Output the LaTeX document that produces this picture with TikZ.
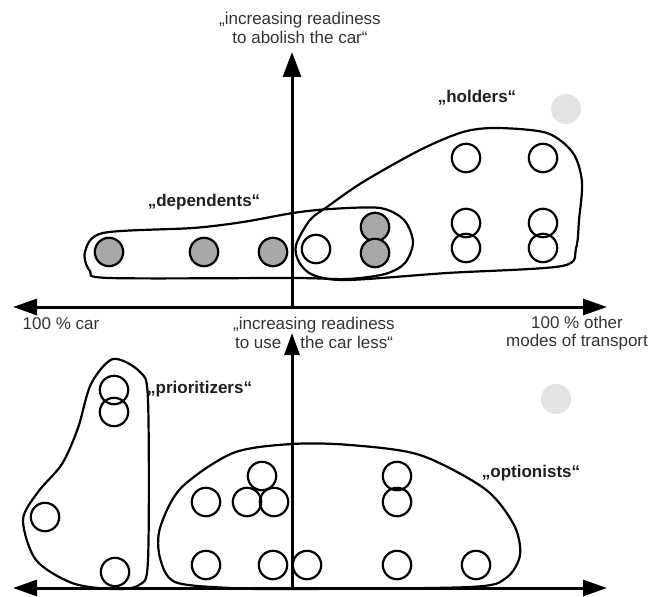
\documentclass[tikz,border=0pt]{standalone}
\usepackage{fontspec}
\setmainfont{Liberation Sans}
\usetikzlibrary{arrows.meta}
\definecolor{txt}{HTML}{333333}
\definecolor{dotgray}{HTML}{A8A8A8}
\definecolor{ghost}{HTML}{E3E3E3}
\begin{document}
\begin{tikzpicture}[x=1pt,y=-1pt,
  lbl/.style={font=\fontsize{17}{19}\selectfont, text=txt, inner sep=0pt, anchor=base},
  grp/.style={font=\fontsize{17}{19}\selectfont\bfseries, text=black!88, inner sep=0pt, anchor=base},
  pt/.style={circle, draw=black, line width=2.2pt, minimum size=28.4pt, inner sep=0pt},
  ptg/.style={pt, fill=dotgray},
  ghostdot/.style={circle, fill=ghost, minimum size=30pt, inner sep=0pt},
  blob/.style={draw=black, line width=2.2pt},
  haxis/.style={line width=3pt, {Triangle[length=24pt,width=16pt]}-{Triangle[length=24pt,width=16pt]}},
  vaxisA/.style={line width=3pt, -{Triangle[length=25pt,width=18pt]}},
  vaxisB/.style={line width=3pt, -{Triangle[length=22pt,width=15pt]}}
]
\useasboundingbox (0,0) rectangle (652,596);

% ---------- upper diagram ----------
\node[ghostdot] (g1) at (566,109) {};

% holders blob
\draw[blob] plot[smooth cycle] coordinates {
  (296,245) (310,220) (327,207) (363,182) (420,150) (463,132) (497,128)
  (547,133) (573,153) (582,182) (579,220) (576,248) (562,266) (447,273)
  (347,280) (313,275) (299,262)};
% dependents blob
\draw[blob] plot[smooth cycle] coordinates {
  (85,252) (103,233) (193,228) (243,222) (293,213) (330,209) (380,208)
  (404,220) (413,242) (405,263) (385,274) (347,279) (293,278) (110,278) (90,271)};

\node[ptg] (d1) at (109,252) {};
\node[ptg] (d2) at (204,252) {};
\node[ptg] (d3) at (273,252) {};
\node[pt]  (d4) at (316,249) {};
\node[ptg] (d5) at (375,227) {};
\node[ptg] (d6) at (375,253) {};

\node[pt] (h1) at (466,158) {};
\node[pt] (h2) at (543,158) {};
\node[pt] (h3) at (466,223) {};
\node[pt] (h4) at (543,223) {};
\node[pt] (h5) at (466,248) {};
\node[pt] (h6) at (543,248) {};

\coordinate (hL1) at (13,307);
\coordinate (hR1) at (607,307);
\coordinate (vB1) at (292,307);
\coordinate (vT1) at (292,52);
\draw[haxis] (hL1) -- (hR1);
\draw[vaxisA] (vB1) -- (vT1);

\node[lbl] (ta1) at (300,25) {„increasing readiness};
\node[lbl] (ta2) at (300,44) {to abolish the car“};
\node[grp] (holders) at (477,103) {„holders“};
\node[grp] (dependents) at (204,206) {„dependents“};

\node[lbl] (car) at (61,329) {100 \% car};
\node[lbl] (oth1) at (577,328) {100 \% other};
\node[lbl] (oth2) at (577,346) {modes of transport};

% ---------- lower diagram ----------
\node[ghostdot] (g2) at (556,399) {};

\draw[blob] plot[smooth cycle] coordinates {
  (113,359) (140,372) (148,400) (148,560) (139,585) (112,589) (72,583)
  (36,560) (23,520) (38,492) (62,464) (78,428) (91,384)};

\draw[blob] plot[smooth cycle] coordinates {
  (292,444) (350,445) (420,455) (485,489) (514,525) (520,555) (506,578)
  (470,587) (292,589) (230,588) (175,582) (160,558) (160,528) (181,488) (233,453)};

\node[pt] (p1) at (114,390) {};
\node[pt] (p2) at (114,412) {};
\node[pt] (p3) at (45,517) {};
\node[pt] (p4) at (115,572) {};

\node[pt] (o1) at (206,502) {};
\node[pt] (o2) at (262,476) {};
\node[pt] (o3) at (247,502) {};
\node[pt] (o4) at (274,502) {};
\node[pt] (o5) at (397,476) {};
\node[pt] (o6) at (397,502) {};
\node[pt] (o7) at (206,565) {};
\node[pt] (o8) at (273,565) {};
\node[pt] (o9) at (307,565) {};
\node[pt] (o10) at (397,565) {};
\node[pt] (o11) at (476,565) {};

\node[lbl] (tb1) at (314,329) {„increasing readiness};
\node[lbl] (tb2) at (314,348) {to use\hspace{19pt}the car less“};

\coordinate (hL2) at (13,588);
\coordinate (hR2) at (607,588);
\coordinate (vB2) at (292,588);
\coordinate (vT2) at (292,333);
\draw[haxis] (hL2) -- (hR2);
\draw[vaxisB] (vB2) -- (vT2);

\node[grp, anchor=base west] (prio) at (147,393) {„prioritizers“};
\node[grp] (opt) at (531,477) {„optionists“};
\end{tikzpicture}
\end{document}
